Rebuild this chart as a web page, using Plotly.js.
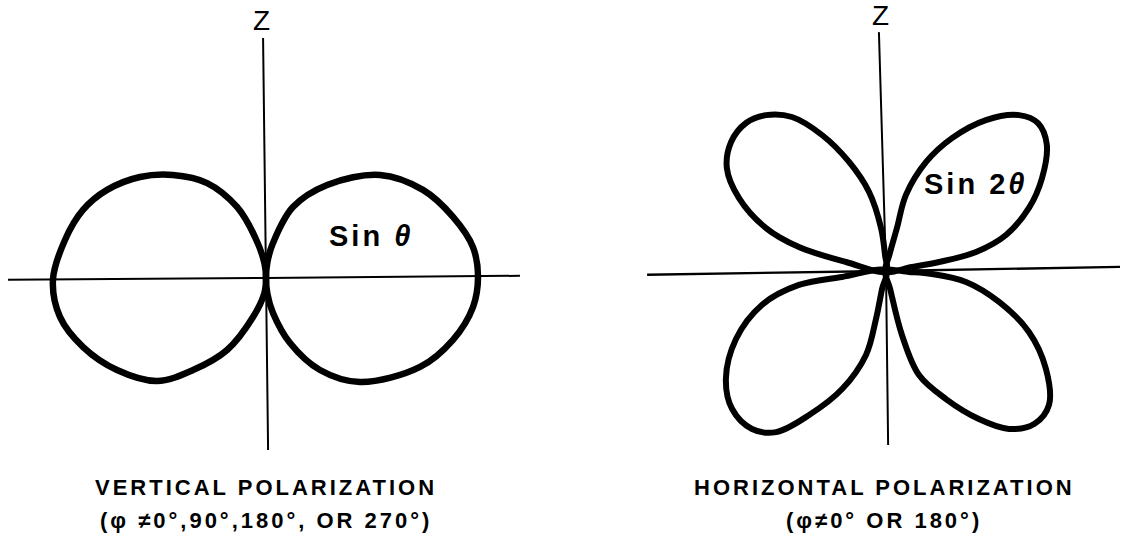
<!DOCTYPE html>
<html>
<head>
<meta charset="utf-8">
<script src="https://cdn.plot.ly/plotly-3.0.1.min.js"></script>
<style>
  html, body { margin: 0; padding: 0; background: #fff; overflow: hidden; }
  #chart { width: 1125px; height: 546px; }
  text.annotation-text { letter-spacing: 3px; }
</style>
</head>
<body>
<div id="chart"></div>
<script>
// Radiation patterns in the plane containing the Z axis.
// theta: degrees from the Z axis, measured clockwise; r: relative field strength (peak = 1).

// Vertical polarization, sin θ pattern
const sinRightLobeTheta = [0, 5.0, 11.3, 20.8, 33.3, 47.9, 60.7, 71.9, 81.5, 89.7, 98.0, 108.3, 120.0, 137.9, 149.6, 159.7, 168.7, 175.0, 180];
const sinRightLobeR     = [0, 0.075, 0.168, 0.358, 0.525, 0.725, 0.849, 0.928, 0.987, 1.000, 0.986, 0.929, 0.839, 0.661, 0.503, 0.327, 0.168, 0.075, 0];
const sinLeftLobeTheta  = [180, 186.0, 198.4, 208.4, 218.4, 226.6, 238.3, 249.3, 259.3, 269.5, 280.7, 290.4, 299.0, 308.7, 317.9, 328.2, 337.8, 345.0, 354.0, 360];
const sinLeftLobeR      = [0, 0.070, 0.194, 0.386, 0.554, 0.707, 0.826, 0.922, 0.989, 1.005, 0.965, 0.921, 0.857, 0.762, 0.655, 0.527, 0.362, 0.200, 0.070, 0];

// Horizontal polarization, sin 2θ pattern (four lobes)
const sin2UpperRightTheta = [0, 12.0, 14.3, 14.7, 20.2, 26.4, 33.5, 40.5, 45.8, 51.8, 59.2, 66.2, 73.3, 78.1, 80.4, 81.3, 90];
const sin2UpperRightR     = [0, 0.079, 0.209, 0.371, 0.548, 0.700, 0.854, 0.967, 1.000, 0.965, 0.857, 0.737, 0.591, 0.434, 0.254, 0.124, 0];
const sin2LowerRightTheta = [90, 92.5, 93.7, 97.8, 105.3, 113.1, 121.5, 129.4, 135.8, 142.1, 147.9, 154.9, 162.4, 166.0, 167.0, 180];
const sin2LowerRightR     = [0, 0.109, 0.217, 0.381, 0.553, 0.733, 0.885, 0.995, 1.005, 0.944, 0.824, 0.667, 0.515, 0.311, 0.089, 0];
const sin2LowerLeftTheta  = [180, 192.5, 191.8, 193.4, 200.4, 208.1, 214.3, 220.3, 228.1, 236.0, 245.6, 254.7, 260.9, 262.2, 270];
const sin2LowerLeftR      = [0, 0.087, 0.231, 0.407, 0.594, 0.770, 0.920, 0.977, 0.975, 0.911, 0.777, 0.607, 0.416, 0.209, 0];
const sin2UpperLeftTheta  = [270, 282.7, 285.4, 289.7, 296.4, 302.9, 309.8, 316.6, 322.4, 328.6, 334.8, 341.3, 347.9, 353.4, 356.4, 360];
const sin2UpperLeftR      = [0, 0.193, 0.426, 0.601, 0.774, 0.894, 0.951, 0.961, 0.928, 0.851, 0.709, 0.543, 0.381, 0.204, 0.076, 0];

// Reference axes drawn through the origin (end, origin, end)
const leftZAxisTheta  = [359.3, 0, 179.3];
const leftZAxisR      = [1.132, 0, 0.811];
const leftHAxisTheta  = [269.6, 0, 89.5];
const leftHAxisR      = [1.217, 0, 1.198];
const rightZAxisTheta = [358.3, 0, 179.3];
const rightZAxisR     = [1.128, 0, 0.821];
const rightHAxisTheta = [269.1, 0, 89.0];
const rightHAxisR     = [1.156, 0, 1.104];

// Text
const axisLabel = 'Z';
const leftPatternLabel = 'Sin <i>θ</i>';
const rightPatternLabel = 'Sin 2<i>θ</i>';
const leftCaption = ['VERTICAL POLARIZATION', '(φ ≠0°,90°,180°, OR 270°)'];
const rightCaption = ['HORIZONTAL POLARIZATION', '(φ≠0° OR 180°)'];

// ---- layout helpers (page pixels -> paper fractions)
const W = 1125, H = 546;
const px = x => x / W;
const py = y => 1 - y / H;

const INK = '#000';

function curve(theta, r, sub, width, smooth) {
  return {
    type: 'scatterpolar', subplot: sub, mode: 'lines',
    theta: theta, r: r,
    line: { color: INK, width: width, shape: smooth ? 'spline' : 'linear', smoothing: 1 },
    hoverinfo: 'skip', showlegend: false
  };
}

const data = [
  curve(leftZAxisTheta, leftZAxisR, 'polar', 2, false),
  curve(leftHAxisTheta, leftHAxisR, 'polar', 2, false),
  curve(sinRightLobeTheta, sinRightLobeR, 'polar', 6.5, true),
  curve(sinLeftLobeTheta, sinLeftLobeR, 'polar', 6.5, true),

  curve(rightZAxisTheta, rightZAxisR, 'polar2', 2, false),
  curve(rightHAxisTheta, rightHAxisR, 'polar2', 2.3, false),
  curve(sin2UpperRightTheta, sin2UpperRightR, 'polar2', 6, true),
  curve(sin2LowerRightTheta, sin2LowerRightR, 'polar2', 6, true),
  curve(sin2LowerLeftTheta, sin2LowerLeftR, 'polar2', 6, true),
  curve(sin2UpperLeftTheta, sin2UpperLeftR, 'polar2', 6, true)
];

function polarLayout(cx, cy, radiusPx, rMax) {
  return {
    domain: { x: [px(cx - radiusPx), px(cx + radiusPx)], y: [py(cy + radiusPx), py(cy - radiusPx)] },
    bgcolor: 'rgba(0,0,0,0)',
    radialaxis: { visible: false, range: [0, rMax], showgrid: false, showline: false, ticks: '' },
    angularaxis: { visible: false, rotation: 90, direction: 'clockwise', showgrid: false, showline: false, ticks: '' }
  };
}

const PX_PER_UNIT = 212;

const capFont = { family: 'Liberation Sans, Arial, sans-serif', size: 22, color: INK, weight: 700 };
const labelFont = { family: 'Liberation Sans, Arial, sans-serif', size: 29, color: INK, weight: 700 };
const zFont = { family: 'Liberation Sans, Arial, sans-serif', size: 28, color: INK };

function note(text, x, y, font) {
  return { text: text, x: px(x), y: py(y), xref: 'paper', yref: 'paper',
           xanchor: 'center', yanchor: 'middle', showarrow: false, font: font };
}

const layout = {
  width: W, height: H,
  margin: { l: 0, r: 0, t: 0, b: 0 },
  paper_bgcolor: '#fff',
  showlegend: false,
  polar: polarLayout(266, 278, 265, 265 / PX_PER_UNIT),
  polar2: polarLayout(886, 271, 239, 239 / PX_PER_UNIT),
  annotations: [
    note(axisLabel, 262.5, 21, zFont),
    note(axisLabel, 882, 15, zFont),
    note(leftPatternLabel, 371, 236, labelFont),
    note(rightPatternLabel, 975, 184, labelFont),
    note(leftCaption[0], 266, 487, capFont),
    note(leftCaption[1], 266, 520, capFont),
    note(rightCaption[0], 884, 487, capFont),
    note(rightCaption[1], 884, 520, capFont)
  ]
};

Plotly.newPlot('chart', data, layout, { staticPlot: true, displayModeBar: false });
</script>
</body>
</html>
